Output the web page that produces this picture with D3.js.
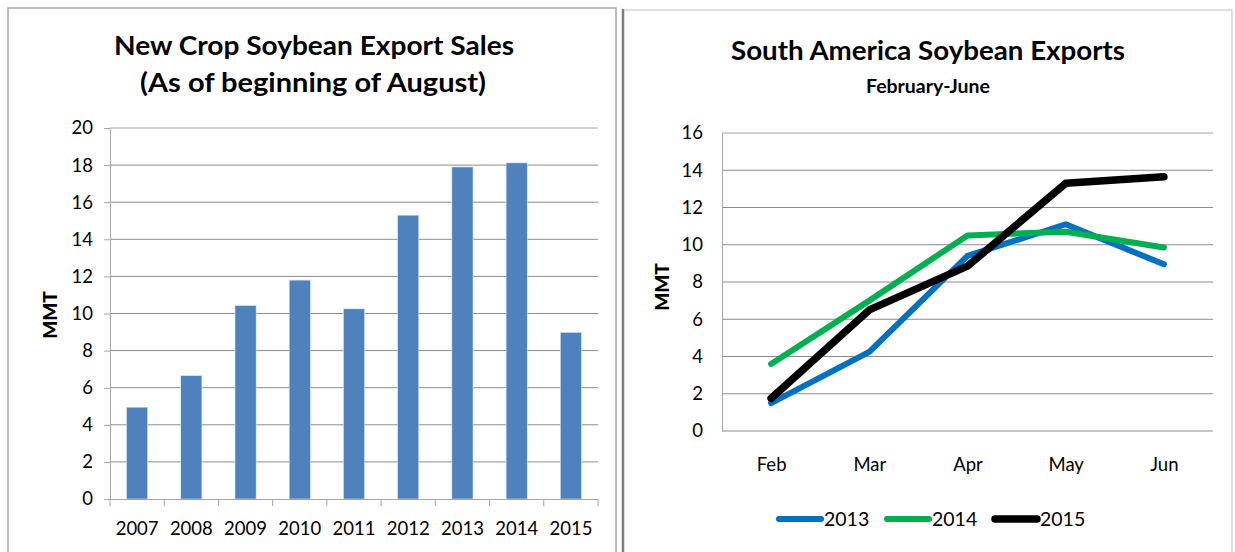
<!doctype html>
<html>
<head>
<meta charset="utf-8">
<title>Soybean exports</title>
<script src="https://d3js.org/d3.v7.min.js"></script>
<style>
  body { margin: 0; background: #fff; }
  text { font-family: Lato, "Open Sans", sans-serif; fill: #000; }
</style>
</head>
<body>
<svg id="chart" width="1235" height="552"></svg>
<script>
// left chart data
const barYears = ['2007', '2008', '2009', '2010', '2011', '2012', '2013', '2014', '2015'];
const barSales = [4.95, 6.65, 10.43, 11.8, 10.25, 15.3, 17.9, 18.12, 8.98];
const barTicks = [0, 2, 4, 6, 8, 10, 12, 14, 16, 18, 20];

// right chart data
const months = ['Feb', 'Mar', 'Apr', 'May', 'Jun'];
const exports2013 = [1.5, 4.25, 9.4, 11.1, 8.95];
const exports2014 = [3.6, 7.0, 10.5, 10.7, 9.85];
const exports2015 = [1.75, 6.5, 8.85, 13.3, 13.65];
const seriesNames = ['2013', '2014', '2015'];
const lineTicks = [0, 2, 4, 6, 8, 10, 12, 14, 16];

const GRID = '#8c8c8c'
const AXIS = '#a6a6a6'

const svg = d3.select('#chart')

// panel frames
svg.append('path').attr('d', 'M8,552 V8 H616 V552')
    .attr('fill', 'none').attr('stroke', '#a6a6a6').attr('stroke-width', 1.5)
svg.append('path').attr('d', 'M623,552 V10 H1232 V552')
    .attr('fill', 'none').attr('stroke', '#bfbfbf').attr('stroke-width', 1)
svg.append('line').attr('x1', 623).attr('x2', 623).attr('y1', 9).attr('y2', 552)
    .attr('stroke', '#808080').attr('stroke-width', 2.5)

// ---------- left: bar chart ----------
const left = svg.append('g')

const x1 = d3.scaleBand().domain(barYears).range([110, 598])
    .paddingInner(0.61).paddingOuter(0.305)
const y1 = d3.scaleLinear().domain([0, 20]).range([499, 128])

left.selectAll('.grid').data(barTicks.slice(1)).enter().append('line')
    .attr('x1', 110).attr('x2', 598)
    .attr('y1', d => y1(d)).attr('y2', d => y1(d))
    .attr('stroke', d => d == 20 ? AXIS : GRID).attr('stroke-width', 1)

left.append('g').attr('transform', 'translate(110,0)')
    .call(d3.axisLeft(y1).tickValues(barTicks).tickSize(6).tickPadding(11))
    .call(g => g.select('.domain').attr('stroke', AXIS))
    .call(g => g.selectAll('.tick line').attr('stroke', AXIS))
    .call(g => g.selectAll('text').attr('font-size', 18.5).attr('fill', '#000'))

left.selectAll('rect').data(barSales).enter().append('rect')
    .attr('x', (d, i) => x1(barYears[i]))
    .attr('y', d => y1(d))
    .attr('width', x1.bandwidth())
    .attr('height', d => y1(0) - y1(d))
    .attr('fill', '#4f81bd')
    .attr('stroke', '#dce6f2').attr('stroke-width', 0.6)

left.append('g').attr('transform', 'translate(0,499)')
    .call(d3.axisBottom(x1).tickSize(0).tickPadding(23))
    .call(g => g.select('.domain').attr('stroke', AXIS))
    .call(g => g.selectAll('text').attr('font-size', 18.5).attr('fill', '#000'))

// boundary ticks under the categories
left.selectAll('.btick').data(d3.range(barYears.length + 1)).enter().append('line')
    .attr('x1', i => x1.range()[0] + i * x1.step())
    .attr('x2', i => x1.range()[0] + i * x1.step())
    .attr('y1', 499).attr('y2', 506)
    .attr('stroke', AXIS)

left.append('text')
    .attr('transform', 'translate(57,315) rotate(-90)')
    .attr('text-anchor', 'middle').attr('font-size', 19).attr('font-weight', 900)
    .text('MMT')

left.append('text').attr('x', 314).attr('y', 55)
    .attr('text-anchor', 'middle').attr('font-size', 26).attr('font-weight', 'bold')
    .attr('textLength', 400).attr('lengthAdjust', 'spacingAndGlyphs')
    .text('New Crop Soybean Export Sales')
left.append('text').attr('x', 313).attr('y', 92)
    .attr('text-anchor', 'middle').attr('font-size', 26).attr('font-weight', 'bold')
    .attr('textLength', 346).attr('lengthAdjust', 'spacingAndGlyphs')
    .text('(As of beginning of August)')

// ---------- right: line chart ----------
const right = svg.append('g')

const x2 = d3.scalePoint().domain(months).range([722, 1213]).padding(0.5)
const y2 = d3.scaleLinear().domain([0, 16]).range([431, 133])

right.selectAll('.grid').data(lineTicks).enter().append('line')
    .attr('x1', 722).attr('x2', 1213)
    .attr('y1', d => y2(d)).attr('y2', d => y2(d))
    .attr('stroke', d => d == 16 ? AXIS : GRID).attr('stroke-width', 1)

right.append('g').attr('transform', 'translate(722,0)')
    .call(d3.axisLeft(y2).tickValues(lineTicks).tickSize(0).tickPadding(19))
    .call(g => g.select('.domain').attr('stroke', AXIS))
    .call(g => g.selectAll('text').attr('font-size', 18.5).attr('fill', '#000'))

right.append('g').attr('transform', 'translate(0,431)')
    .call(d3.axisBottom(x2).tickSize(0).tickPadding(27))
    .call(g => g.select('.domain').remove())
    .call(g => g.selectAll('text').attr('font-size', 18.5).attr('fill', '#000'))

const series = [
    { name: seriesNames[0], values: exports2013, color: '#0070c0', width: 6 },
    { name: seriesNames[1], values: exports2014, color: '#00b050', width: 6 },
    { name: seriesNames[2], values: exports2015, color: '#000000', width: 7.5 }
]

const line = d3.line()
    .x((d, i) => x2(months[i]))
    .y(d => y2(d))

right.selectAll('.series').data(series).enter().append('path')
    .attr('d', d => line(d.values))
    .attr('fill', 'none')
    .attr('stroke', d => d.color)
    .attr('stroke-width', d => d.width)
    .attr('stroke-linecap', 'round').attr('stroke-linejoin', 'round')

right.append('text')
    .attr('transform', 'translate(669,287) rotate(-90)')
    .attr('text-anchor', 'middle').attr('font-size', 19).attr('font-weight', 900)
    .text('MMT')

right.append('text').attr('x', 928).attr('y', 60)
    .attr('text-anchor', 'middle').attr('font-size', 26).attr('font-weight', 'bold')
    .attr('textLength', 394).attr('lengthAdjust', 'spacingAndGlyphs')
    .text('South America Soybean Exports')
right.append('text').attr('x', 928).attr('y', 93)
    .attr('text-anchor', 'middle').attr('font-size', 18).attr('font-weight', 'bold')
    .attr('textLength', 124).attr('lengthAdjust', 'spacingAndGlyphs')
    .text('February-June')

// legend
const legend = right.selectAll('.legend').data(series).enter().append('g')
    .attr('transform', (d, i) => 'translate(' + (779 + i * 108) + ',519)')
legend.append('line')
    .attr('x1', 0).attr('x2', 42).attr('y1', 0).attr('y2', 0)
    .attr('stroke', d => d.color).attr('stroke-width', d => d.width)
    .attr('stroke-linecap', 'round')
legend.append('text')
    .attr('x', 45).attr('y', 7)
    .attr('font-size', 19.5)
    .text(d => d.name)
</script>
</body>
</html>
